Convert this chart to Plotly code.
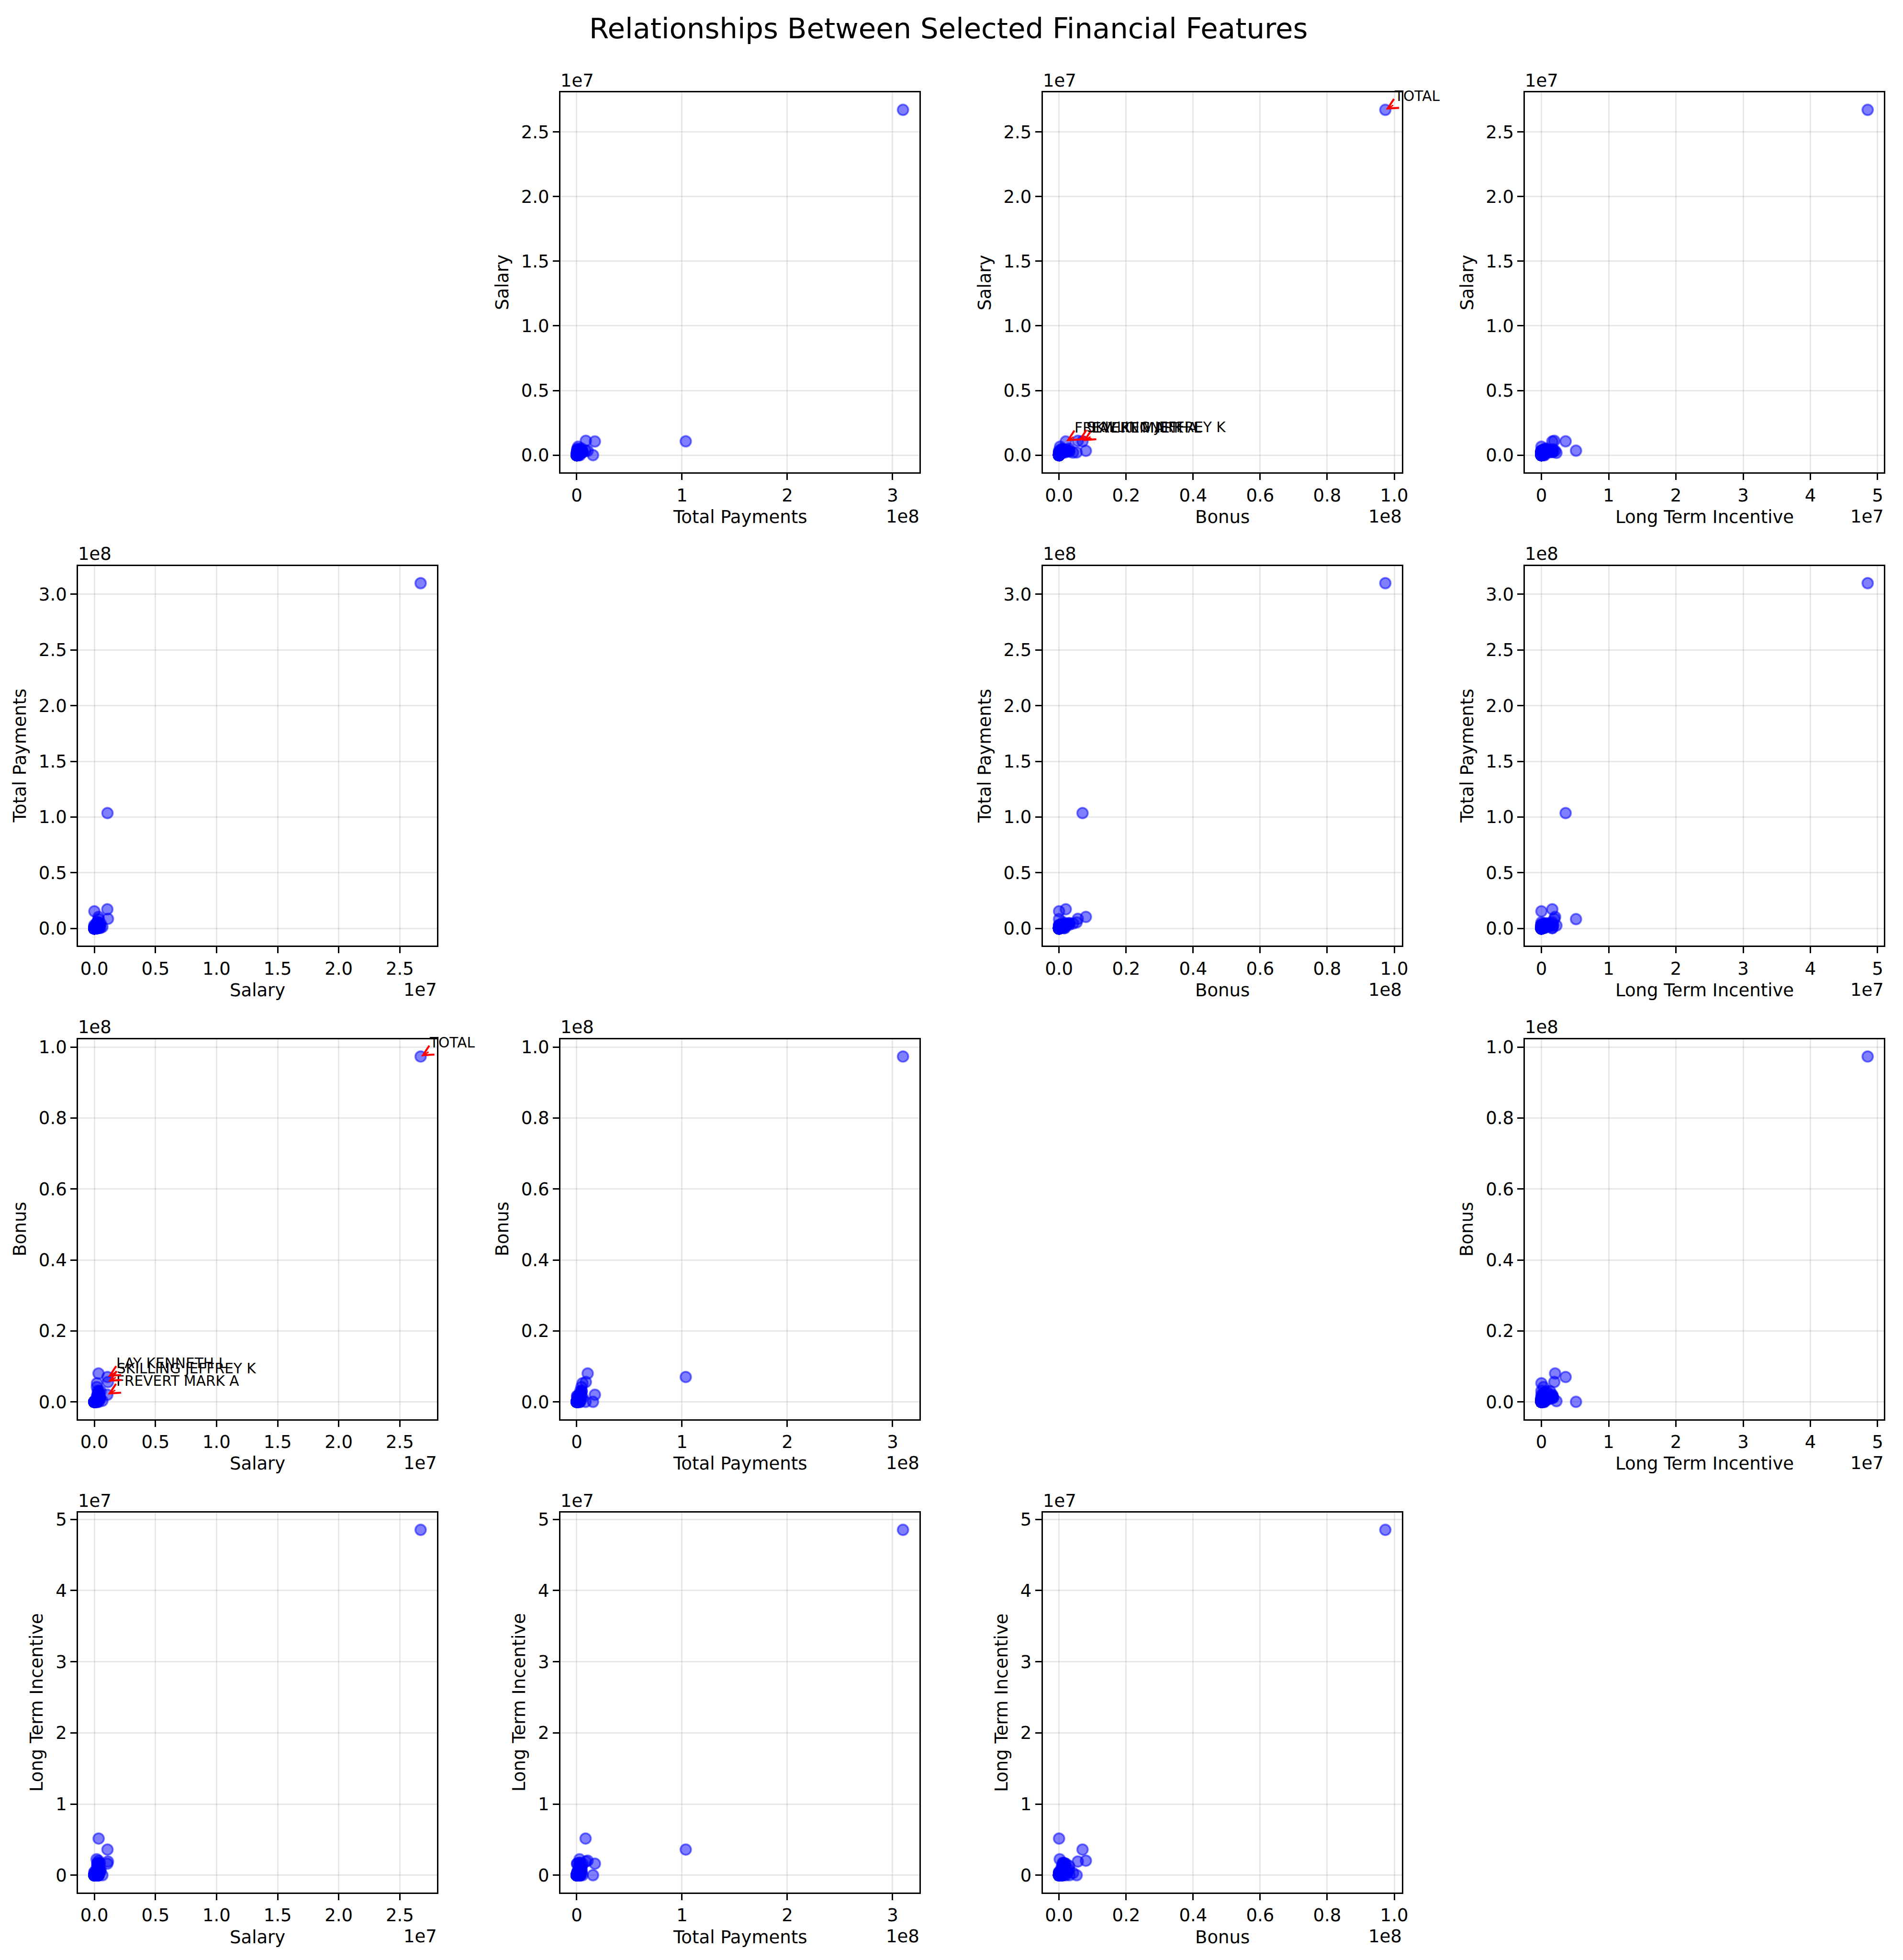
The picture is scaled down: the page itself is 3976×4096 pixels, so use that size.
import plotly.graph_objects as go

# ---------------- data (NaN shown as 0) ----------------
names = [
    "ALLEN PHILLIP K", "BADUM JAMES P", "BANNANTINE JAMES M", "BAXTER JOHN C", "BAY FRANKLIN R",
    "BAZELIDES PHILIP J", "BECK SALLY W", "BELDEN TIMOTHY N", "BELFER ROBERT", "BERBERIAN DAVID",
    "BERGSIEKER RICHARD P", "BHATNAGAR SANJAY", "BIBI PHILIPPE A", "BLACHMAN JEREMY M", "BLAKE JR. NORMAN P",
    "BOWEN JR RAYMOND M", "BROWN MICHAEL", "BUCHANAN HAROLD G", "BUTTS ROBERT H", "BUY RICHARD B",
    "CALGER CHRISTOPHER F", "CARTER REBECCA C", "CAUSEY RICHARD A", "CHAN RONNIE", "CHRISTODOULOU DIOMEDES",
    "CLINE KENNETH W", "COLWELL WESLEY", "CORDES WILLIAM R", "COX DAVID", "CUMBERLAND MICHAEL S",
    "DEFFNER JOSEPH M", "DELAINEY DAVID W", "DERRICK JR. JAMES V", "DETMERING TIMOTHY J", "DIETRICH JANET R",
    "DIMICHELE RICHARD G", "DODSON KEITH", "DONAHUE JR JEFFREY M", "DUNCAN JOHN H", "DURAN WILLIAM D",
    "ECHOLS JOHN B", "ELLIOTT STEVEN", "FALLON JAMES B", "FASTOW ANDREW S", "FITZGERALD JAY L",
    "FOWLER PEGGY", "FOY JOE", "FREVERT MARK A", "FUGH JOHN L", "GAHN ROBERT S",
    "GARLAND C KEVIN", "GATHMANN WILLIAM D", "GIBBS DANA R", "GILLIS JOHN", "GLISAN JR BEN F",
    "GOLD JOSEPH", "GRAMM WENDY L", "GRAY RODNEY", "HAEDICKE MARK E", "HANNON KEVIN P",
    "HAUG DAVID L", "HAYES ROBERT E", "HAYSLETT RODERICK J", "HERMANN ROBERT J", "HICKERSON GARY J",
    "HIRKO JOSEPH", "HORTON STANLEY C", "HUGHES JAMES A", "HUMPHREY GENE E", "IZZO LAWRENCE L",
    "JACKSON CHARLENE R", "JAEDICKE ROBERT", "KAMINSKI WINCENTY J", "KEAN STEVEN J", "KISHKILL JOSEPH G",
    "KITCHEN LOUISE", "KOENIG MARK E", "KOPPER MICHAEL J", "LAVORATO JOHN J", "LAY KENNETH L",
    "LEFF DANIEL P", "LEMAISTRE CHARLES", "LEWIS RICHARD", "LINDHOLM TOD A", "LOCKHART EUGENE E",
    "LOWRY CHARLES P", "MARTIN AMANDA K", "MCCARTY DANNY J", "MCCLELLAN GEORGE", "MCCONNELL MICHAEL S",
    "MCDONALD REBECCA", "MCMAHON JEFFREY", "MENDELSOHN JOHN", "METTS MARK", "MEYER JEROME J",
    "MEYER ROCKFORD G", "MORAN MICHAEL P", "MORDAUNT KRISTINA M", "MULLER MARK S", "MURRAY JULIA H",
    "NOLES JAMES L", "OLSON CINDY K", "OVERDYKE JR JERE C", "PAI LOU L", "PEREIRA PAULO V. FERRAZ",
    "PICKERING MARK R", "PIPER GREGORY F", "PIRO JIM", "POWERS WILLIAM", "PRENTICE JAMES",
    "REDMOND BRIAN L", "REYNOLDS LAWRENCE", "RICE KENNETH D", "RIEKER PAULA H", "SAVAGE FRANK",
    "SCRIMSHAW MATTHEW", "SHANKMAN JEFFREY A", "SHAPIRO RICHARD S", "SHARP VICTORIA T", "SHELBY REX",
    "SHERRICK JEFFREY B", "SHERRIFF JOHN R", "SKILLING JEFFREY K", "STABLER FRANK", "SULLIVAN-GEORGE MARTIN",
    "SUNDE MARTIN", "TAYLOR MITCHELL S", "THE TRAVEL AGENCY IN THE PARK", "THORN TERENCE H", "TILNEY ELIZABETH A",
    "TOTAL", "UMANOFF ADAM S", "URQUHART JOHN A", "WAKEHAM JOHN", "WALLS JR ROBERT H",
    "WALTERS GARETH W", "WASAFF GEORGE", "WESTFAHL RICHARD K", "WHALEY DAVID A", "WHALLEY LAWRENCE G",
    "WHITE JR THOMAS E", "WINOKUR JR. HERBERT S", "WODRASKA JOHN", "WROBEL BRUCE", "YEAGER F SCOTT",
    "YEAP SOON",
]

salary = [
    201955, 0, 477, 267102, 239671, 80818, 231330, 213999, 0, 216582,
    187922, 0, 213625, 248546, 0, 278601, 0, 248017, 261516, 330546,
    240189, 261809, 415189, 0, 0, 0, 288542, 0, 314288, 184899,
    206121, 365163, 492375, 210500, 250100, 262788, 221003, 278601, 0, 210692,
    182245, 170941, 304588, 440698, 199157, 0, 0, 1060932, 0, 192008,
    231946, 0, 0, 0, 274975, 272880, 0, 6615, 374125, 243293,
    0, 0, 0, 262663, 211788, 0, 0, 0, 130724, 85274,
    288558, 0, 275101, 404338, 174246, 271442, 309946, 224305, 339288, 1072321,
    273746, 0, 0, 236457, 0, 0, 349487, 0, 263413, 365038,
    0, 370448, 0, 365788, 0, 0, 0, 267093, 251654, 229284,
    0, 329078, 94941, 261879, 0, 655037, 197091, 0, 0, 0,
    96840, 76399, 420636, 249201, 0, 0, 304110, 269076, 248146, 211844,
    0, 428780, 1111258, 239502, 0, 257486, 265214, 0, 222093, 247338,
    26704229, 288589, 0, 0, 357091, 0, 259996, 63744, 0, 510364,
    317543, 0, 0, 0, 158403, 0,
]

total_payments = [
    4484442, 182466, 916197, 5634343, 827696, 860136, 969068, 5501630, 102500, 228474,
    618850, 15456290, 2047593, 2014835, 1279, 2669589, 49288, 1054637, 1271582, 2355702,
    1639297, 477557, 1868758, 0, 0, 0, 1490344, 0, 1101393, 807956,
    1208649, 4747979, 550981, 1204583, 1410464, 2368151, 319941, 875760, 77492, 2093263,
    2692324, 211725, 3676340, 2424083, 1414857, 0, 181755, 17252530, 50591, 900585,
    1566469, 0, 966522, 0, 1272284, 2146973, 119292, 1146658, 3859065, 288682,
    475, 7961, 0, 1297461, 2081796, 91093, 3131860, 0, 3100224, 1979596,
    551174, 83750, 1086821, 1747522, 704896, 3471141, 1587421, 2652612, 10425757, 103559793,
    2664228, 87492, 0, 875889, 0, 0, 8407016, 0, 1318763, 2101364,
    0, 4099771, 148, 1061827, 2151, 1848227, 0, 628522, 3202070, 812194,
    774401, 1321557, 249787, 3123383, 27942, 1386690, 1737629, 0, 0, 564348,
    111529, 394475, 505050, 1099100, 3750, 0, 3038702, 1057548, 1576511, 2003885,
    0, 4335388, 8682716, 1112087, 0, 1545059, 1092663, 362096, 911453, 399393,
    309886585, 1130461, 228656, 213071, 1798780, 87410, 1034395, 762135, 0, 4677574,
    1934359, 84992, 189583, 0, 360300, 55097,
]

bonus = [
    4175000, 0, 0, 1200000, 400000, 0, 700000, 5249999, 0, 0,
    250000, 0, 1000000, 850000, 0, 1350000, 0, 500000, 750000, 900000,
    1250000, 300000, 1000000, 0, 0, 0, 1200000, 0, 800000, 325000,
    600000, 3000000, 800000, 425000, 600000, 1000000, 70000, 800000, 0, 750000,
    200000, 350000, 2500000, 1300000, 350000, 0, 0, 2000000, 0, 509870,
    850000, 0, 0, 0, 600000, 750000, 0, 0, 1150000, 1500000,
    0, 0, 0, 700000, 1700000, 0, 0, 0, 0, 0,
    250000, 0, 400000, 1000000, 0, 3100000, 700000, 800000, 8000000, 7000000,
    1000000, 0, 0, 200000, 0, 0, 0, 0, 900000, 1100000,
    0, 2600000, 0, 600000, 0, 0, 0, 325000, 1100000, 400000,
    0, 750000, 0, 1000000, 0, 300000, 400000, 0, 0, 0,
    0, 100000, 1750000, 700000, 0, 0, 2000000, 650000, 600000, 200000,
    0, 1500000, 5600000, 500000, 0, 700000, 600000, 0, 0, 300000,
    97343619, 788750, 0, 0, 850000, 0, 325000, 0, 0, 3000000,
    450000, 0, 0, 0, 0, 0,
]

long_term_incentive = [
    304805, 0, 0, 1586055, 0, 93750, 0, 0, 0, 0,
    180250, 0, 369721, 831809, 0, 974293, 0, 304805, 175000, 769862,
    375304, 75000, 350000, 0, 0, 0, 0, 0, 0, 275000,
    335349, 1294981, 484000, 415657, 556416, 694862, 0, 0, 0, 1105218,
    2234774, 0, 374347, 1736055, 556416, 0, 0, 1617011, 0, 0,
    375304, 0, 461912, 0, 71023, 304805, 0, 365625, 983346, 1617011,
    0, 0, 0, 150000, 69223, 0, 0, 0, 0, 312500,
    0, 0, 323466, 300000, 0, 0, 300000, 602671, 2035380, 3600000,
    1387399, 0, 0, 0, 0, 0, 5145434, 0, 0, 554422,
    0, 694862, 0, 0, 0, 0, 0, 0, 1725545, 125000,
    0, 100000, 135836, 0, 0, 0, 0, 0, 0, 0,
    0, 156250, 1617011, 0, 0, 0, 0, 0, 422158, 0,
    0, 554422, 1920000, 0, 0, 476451, 0, 0, 200000, 275000,
    48521928, 0, 0, 0, 540751, 0, 200000, 256191, 0, 808346,
    0, 0, 0, 0, 0, 0,
]

feature_labels = ["Salary", "Total Payments", "Bonus", "Long Term Incentive"]
feature_values = [salary, total_payments, bonus, long_term_incentive]
feature_scale = ["1e7", "1e8", "1e8", "1e7"]
x_tick_labels = [
    ["0.0", "0.5", "1.0", "1.5", "2.0", "2.5"],
    ["0", "1", "2", "3"],
    ["0.0", "0.2", "0.4", "0.6", "0.8", "1.0"],
    ["0", "1", "2", "3", "4", "5"],
]
y_tick_labels = [
    ["0.0", "0.5", "1.0", "1.5", "2.0", "2.5"],
    ["0.0", "0.5", "1.0", "1.5", "2.0", "2.5", "3.0"],
    ["0.0", "0.2", "0.4", "0.6", "0.8", "1.0"],
    ["0", "1", "2", "3", "4", "5"],
]
annotated_names = ["TOTAL", "FREVERT MARK A", "LAY KENNETH L", "SKILLING JEFFREY K"]
annotated_pairs = [(0, 2), (2, 0)]  # (row feature, column feature)

title_text = "Relationships Between Selected Financial Features"

# ---------------- layout geometry ----------------
W, H = 3976, 4096
RW, RH = 4470, 4605
col_left = [184, 1321, 2458, 3595]
row_top = [210, 1324, 2438, 3552]
AX_W, AX_H = 846, 894

FONT = "DejaVu Sans"
TICK_FS = 37
TITLE_FS = 59.3
ANN_FS = 29.6
DESC = 0.236

def xdom(j):
    return [col_left[j] / RW, (col_left[j] + AX_W) / RW]

def ydom(i):
    return [1 - (row_top[i] + AX_H) / RH, 1 - row_top[i] / RH]

def padded_range(vals):
    lo, hi = min(vals), max(vals)
    span = hi - lo
    return [lo - 0.05 * span, hi + 0.05 * span]

fig = go.Figure()
annotations = []
layout_axes = {}

k = 0
for i in range(4):
    for j in range(4):
        if i == j:
            continue
        k += 1
        xa = "x" if k == 1 else f"x{k}"
        ya = "y" if k == 1 else f"y{k}"
        xv = feature_values[j]
        yv = feature_values[i]
        fig.add_trace(go.Scatter(
            x=xv, y=yv, mode="markers", xaxis=xa, yaxis=ya,
            text=names, hoverinfo="text+x+y", showlegend=False,
            marker=dict(size=22.2, color="rgba(0,0,255,0.5)",
                        line=dict(color="rgba(0,0,255,0.5)", width=3.7)),
        ))
        xscale = float(feature_scale[j])
        yscale = float(feature_scale[i])
        common = dict(
            showline=True, linecolor="black", linewidth=3, mirror=True,
            ticks="outside", ticklen=13, tickwidth=3, tickcolor="black",
            showgrid=True, gridcolor="rgba(176,176,176,0.3)", gridwidth=3,
            zeroline=False, tickfont=dict(family=FONT, size=TICK_FS, color="black"),
            tickmode="array",
        )
        layout_axes["xaxis" if k == 1 else f"xaxis{k}"] = dict(
            common, domain=xdom(j), anchor=ya, range=padded_range(xv),
            tickvals=[float(t) * xscale for t in x_tick_labels[j]],
            ticktext=x_tick_labels[j],
        )
        layout_axes["yaxis" if k == 1 else f"yaxis{k}"] = dict(
            common, domain=ydom(i), anchor=xa, range=padded_range(yv),
            tickvals=[float(t) * yscale for t in y_tick_labels[i]],
            ticktext=y_tick_labels[i],
        )

        xd, yd = xdom(j), ydom(i)
        # x axis label
        annotations.append(dict(
            text=feature_labels[j], xref="paper", yref="paper",
            x=(xd[0] + xd[1]) / 2, y=yd[0], xanchor="center", yanchor="bottom",
            yshift=-(106.1 + DESC * TICK_FS + 2), showarrow=False,
            font=dict(family=FONT, size=TICK_FS, color="black"),
        ))
        # y axis label (rotated)
        single = len(y_tick_labels[i][0]) == 1
        base_off = 73.0 if single else 108.5
        annotations.append(dict(
            text=feature_labels[i], xref="paper", yref="paper", textangle=-90,
            x=xd[0], y=(yd[0] + yd[1]) / 2, xanchor="right", yanchor="middle",
            xshift=-(base_off - DESC * TICK_FS - 2), showarrow=False,
            font=dict(family=FONT, size=TICK_FS, color="black"),
        ))
        # offset texts
        annotations.append(dict(
            text=feature_scale[j], xref="paper", yref="paper",
            x=xd[1], y=yd[0], xanchor="right", yanchor="bottom",
            xshift=2, yshift=-(104.6 + DESC * TICK_FS + 2), showarrow=False,
            font=dict(family=FONT, size=TICK_FS, color="black"),
        ))
        annotations.append(dict(
            text=feature_scale[i], xref="paper", yref="paper",
            x=xd[0], y=yd[1], xanchor="left", yanchor="bottom",
            xshift=-2, yshift=12.1 - DESC * TICK_FS - 2, showarrow=False,
            font=dict(family=FONT, size=TICK_FS, color="black"),
        ))
        # point annotations
        if (i, j) in annotated_pairs:
            for nm in annotated_names:
                idx = names.index(nm)
                annotations.append(dict(
                    text=nm, xref=xa, yref=ya, x=xv[idx], y=yv[idx],
                    showarrow=True, arrowhead=5, arrowsize=1.4, arrowwidth=3,
                    arrowcolor="red", standoff=1,
                    ax=16.5, ay=-9.5, xanchor="left", yanchor="bottom",
                    font=dict(family=FONT, size=ANN_FS, color="black"),
                ))

annotations.append(dict(
    text=title_text, xref="paper", yref="paper", x=0.5, y=1 - 73 / H,
    xanchor="center", yanchor="bottom", yshift=-(DESC * TITLE_FS + 2),
    showarrow=False, font=dict(family=FONT, size=TITLE_FS, color="black"),
))

fig.update_layout(
    width=W, height=H, margin=dict(l=0, r=0, t=0, b=0),
    paper_bgcolor="white", plot_bgcolor="white",
    showlegend=False, annotations=annotations, **layout_axes,
)

fig.write_html("out.html")
